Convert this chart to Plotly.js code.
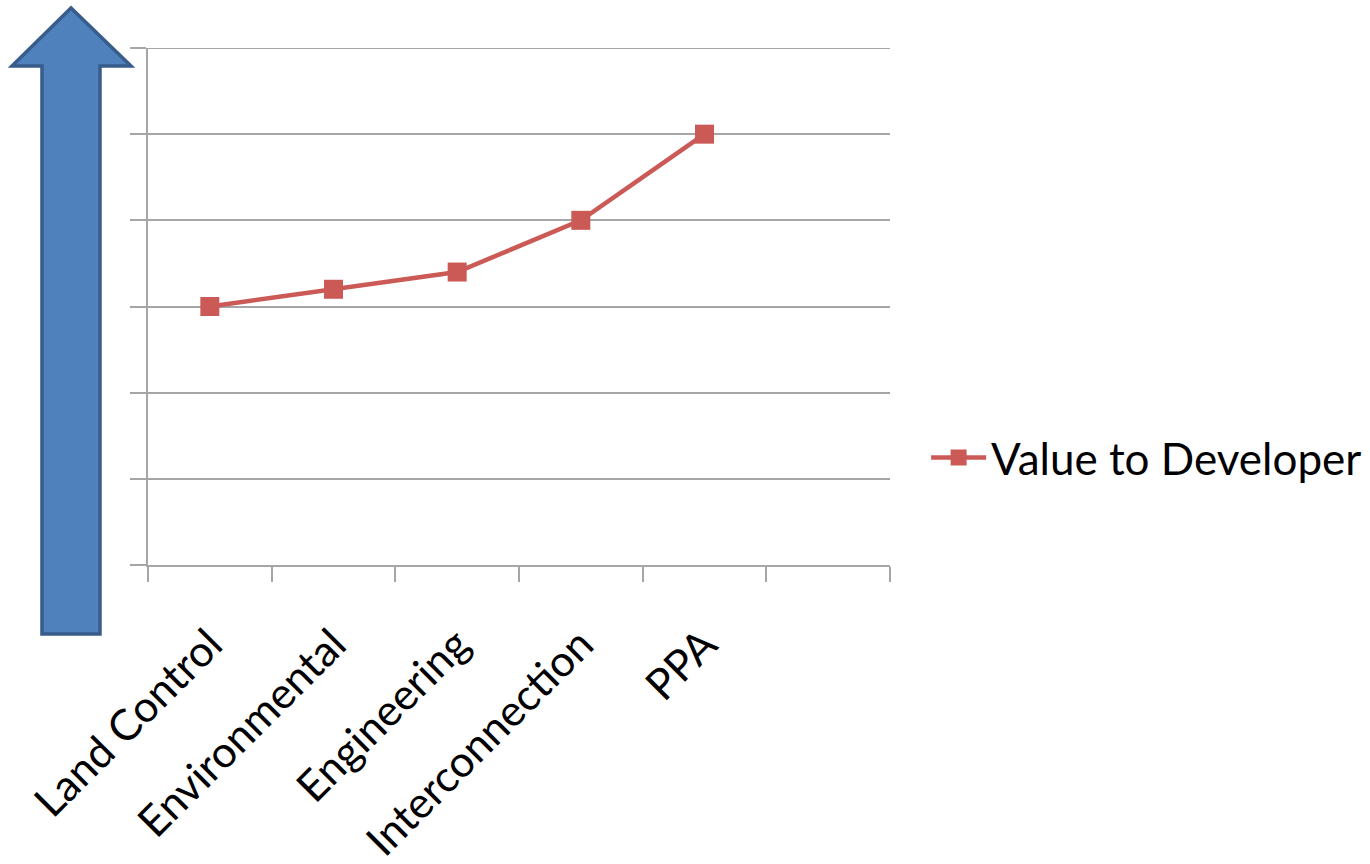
<!DOCTYPE html>
<html>
<head>
<meta charset="utf-8">
<script src="https://cdn.plot.ly/plotly-3.0.1.min.js"></script>
<style>html,body{margin:0;padding:0;background:#fff;}#chart{width:1370px;height:864px;}</style>
</head>
<body>
<div id="chart"></div>
<script>
const categories = ["Land Control", "Environmental", "Engineering", "Interconnection", "PPA"];
const values = [3, 3.2, 3.4, 4, 5];
const seriesName = "Value to Developer";
const slotCount = 6;
const yMax = 6;

const xIdx = categories.map((c, i) => i);
const boundaries = [];
for (let i = 0; i <= slotCount; i++) boundaries.push(i - 0.5);
const yTicks = [];
for (let i = 0; i <= yMax; i++) yTicks.push(i);

const trace = {
  x: xIdx, y: values, name: seriesName, type: 'scatter', mode: 'lines+markers',
  line: {color: '#CB5A56', width: 4.5},
  marker: {symbol: 'square', size: 19, color: '#CB5A56'},
  xaxis: 'x', yaxis: 'y'
};
const dummy = {x: [-0.5, 5.5], y: [0, 0], xaxis: 'x2', yaxis: 'y', mode: 'none', showlegend: false, hoverinfo: 'skip'};

const X = px => (px - 148) / 742;
const Y = py => (565 - py) / 517;
const arrowPts = [[71,8],[12,66],[42,66],[42,634],[100,634],[100,66],[131,66]];
const arrowPath = 'M ' + arrowPts.map(p => X(p[0]).toFixed(4) + ',' + Y(p[1]).toFixed(4)).join(' L ') + ' Z';

const layout = {
  width: 1370, height: 864,
  margin: {l: 148, r: 480, t: 48, b: 299},
  paper_bgcolor: '#fff', plot_bgcolor: '#fff',
  font: {family: 'Lato, "Open Sans", sans-serif', color: '#000', size: 36},
  showlegend: true,
  legend: {xref: 'container', yref: 'container', x: 0.676, y: 0.47, xanchor: 'left', yanchor: 'middle',
           font: {size: 44}, itemwidth: 55, bgcolor: 'rgba(0,0,0,0)'},
  xaxis: {
    range: [-0.5, slotCount - 0.5], tickmode: 'array', tickvals: xIdx, ticktext: categories,
    tickangle: -45, ticks: 'outside', ticklen: 36, tickcolor: 'rgba(0,0,0,0)',
    showgrid: false, zeroline: false, showline: false, fixedrange: true, automargin: false,
    tickfont: {size: 43}
  },
  xaxis2: {
    overlaying: 'x', range: [-0.5, slotCount - 0.5], tickmode: 'array', tickvals: boundaries,
    showticklabels: false, ticks: 'outside', ticklen: 15, tickwidth: 2, tickcolor: '#A6A6A6',
    showgrid: false, zeroline: false, showline: true, linecolor: '#A6A6A6', linewidth: 2, side: 'bottom'
  },
  yaxis: {
    range: [0, yMax], tickmode: 'array', tickvals: yTicks, showticklabels: false,
    ticks: 'outside', ticklen: 16, tickwidth: 2, tickcolor: '#A6A6A6',
    showgrid: true, gridcolor: '#A6A6A6', gridwidth: 2, zeroline: false,
    showline: true, linecolor: '#A6A6A6', linewidth: 2, automargin: false
  },
  shapes: [
    {type: 'line', xref: 'paper', yref: 'y', x0: 0, x1: 1, y0: yMax, y1: yMax,
     line: {color: '#A6A6A6', width: 2}, layer: 'below'},
    {type: 'path', xref: 'paper', yref: 'paper', path: arrowPath,
     fillcolor: '#4F81BD', line: {color: '#385D8A', width: 3.5}, layer: 'above'}
  ]
};

Plotly.newPlot('chart', [trace, dummy], layout, {displayModeBar: false, staticPlot: true});
</script>
</body>
</html>
